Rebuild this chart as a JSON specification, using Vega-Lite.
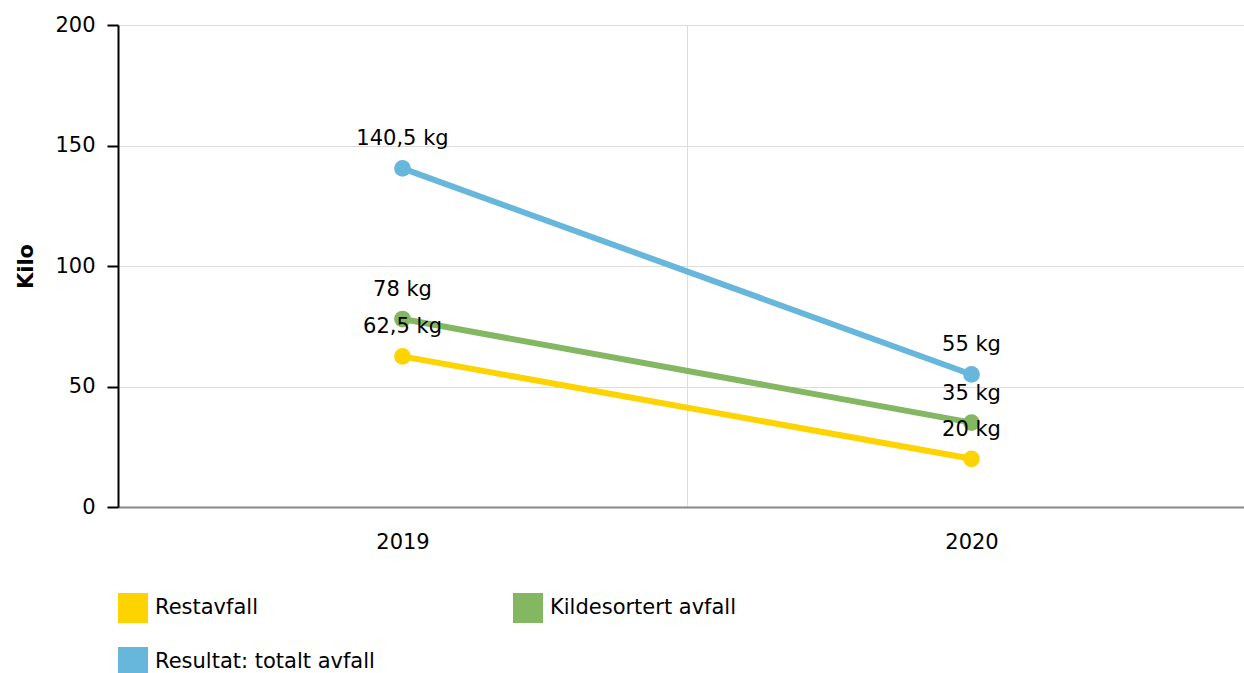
{
  "$schema": "https://vega.github.io/schema/vega-lite/v6.json",
  "width": 1126,
  "height": 482,
  "autosize": {"type": "none"},
  "padding": {"left": 118, "top": 25, "right": 0, "bottom": 166},
  "background": "white",
  "config": {
    "font": "DejaVu Sans",
    "view": {"stroke": null},
    "axis": {"labelFont": "DejaVu Sans", "labelFontSize": 21, "labelColor": "#000", "titleFont": "DejaVu Sans"}
  },
  "data": {
    "values": [
      {"year": "2019", "series": "Restavfall", "value": 62.5, "label": "62,5 kg"},
      {"year": "2020", "series": "Restavfall", "value": 20, "label": "20 kg"},
      {"year": "2019", "series": "Kildesortert avfall", "value": 78, "label": "78 kg"},
      {"year": "2020", "series": "Kildesortert avfall", "value": 35, "label": "35 kg"},
      {"year": "2019", "series": "Resultat: totalt avfall", "value": 140.5, "label": "140,5 kg"},
      {"year": "2020", "series": "Resultat: totalt avfall", "value": 55, "label": "55 kg"}
    ]
  },
  "encoding": {
    "x": {
      "field": "year", "type": "nominal",
      "scale": {"type": "band", "paddingInner": 0, "paddingOuter": 0, "range": [0, 1138]},
      "axis": {
        "title": null, "labelAngle": 0, "ticks": false, "tickBand": "extent",
        "grid": true, "gridColor": "#dddddd", "gridWidth": 1,
        "domainColor": "#888888", "domainWidth": 2, "labelPadding": 24
      }
    },
    "y": {
      "field": "value", "type": "quantitative",
      "scale": {"domain": [0, 200], "nice": false},
      "axis": {
        "title": "Kilo", "titleFontSize": 21, "titleFontWeight": "bold", "titleColor": "#000",
        "titlePadding": 18,
        "values": [0, 50, 100, 150, 200],
        "grid": true, "gridColor": "#dddddd", "gridWidth": 1,
        "domainColor": "#000", "domainWidth": 2, "tickColor": "#000", "tickWidth": 2,
        "tickSize": 11, "labelPadding": 12
      }
    },
    "color": {
      "field": "series", "type": "nominal",
      "scale": {
        "domain": ["Restavfall", "Resultat: totalt avfall", "Kildesortert avfall"],
        "range": ["#fdd400", "#67b7dc", "#84b761"]
      },
      "legend": {
        "title": null, "orient": "none", "legendX": 0, "legendY": 568,
        "columns": 2, "symbolType": "square", "symbolSize": 900, "symbolStrokeWidth": 0,
        "symbolOpacity": 1, "labelLimit": 500,
        "labelFontSize": 21, "labelFont": "DejaVu Sans", "labelColor": "#000", "labelOffset": 7,
        "columnPadding": 138, "rowPadding": 24
      }
    }
  },
  "layer": [
    {"mark": {"type": "line", "strokeWidth": 6}},
    {"mark": {"type": "point", "filled": true, "size": 280, "opacity": 1}},
    {
      "mark": {"type": "text", "fontSize": 21, "font": "DejaVu Sans", "color": "#000", "baseline": "middle", "dy": -29},
      "encoding": {"text": {"field": "label"}, "color": {"value": "#000"}}
    }
  ]
}
